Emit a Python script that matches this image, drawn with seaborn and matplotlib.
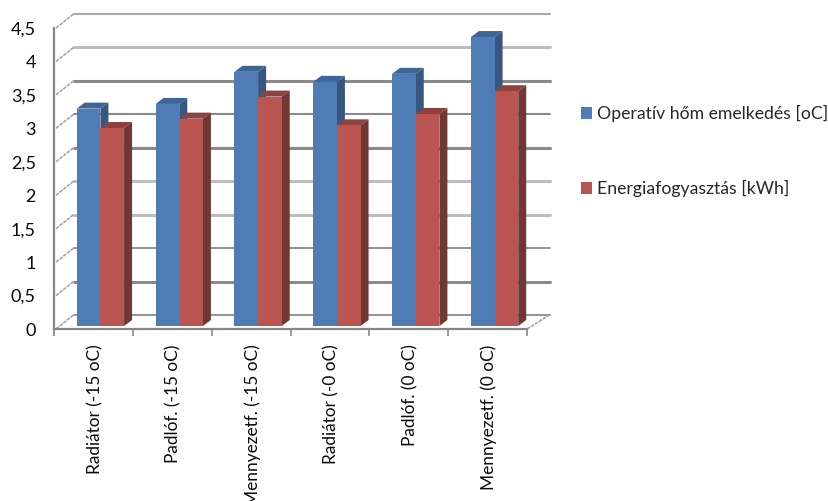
import numpy as np
import pandas as pd
import seaborn as sns
import matplotlib
matplotlib.use("Agg")
import matplotlib.pyplot as plt
from matplotlib.patches import Polygon
from matplotlib.transforms import Affine2D, IdentityTransform

categories = ["Radiátor (-15 oC)", "Padlóf. (-15 oC)", "Mennyezetf. (-15 oC)",
              "Radiátor (-0 oC)", "Padlóf. (0 oC)", "Mennyezetf. (0 oC)"]
series_names = ["Operatív hőm emelkedés [oC]", "Energiafogyasztás [kWh]"]
operative_rise = [3.25, 3.32, 3.80, 3.65, 3.77, 4.32]
energy_use = [2.96, 3.10, 3.43, 3.00, 3.17, 3.51]
y_ticks = [0, 0.5, 1, 1.5, 2, 2.5, 3, 3.5, 4, 4.5]
y_labels = ["0", "0,5", "1", "1,5", "2", "2,5", "3", "3,5", "4", "4,5"]

FRONT = ["#4F7CB5", "#BA5552"]
TOP = ["#3D6595", "#8E413F"]
SIDE = ["#375680", "#703735"]
AXIS_GREY = "#868686"
GRID_SHADES = ["#8A8A8A", "#8A8A8A", "#8A8A8A", "#BDBDBD", "#BDBDBD",
               "#8A8A8A", "#8A8A8A", "#8A8A8A", "#BDBDBD", "#ABABAB"]
GRID_WIDTHS = [1.3, 2.2, 1.3, 2.2, 2.2, 2.2, 1.5, 2.2, 2.2, 1.5]

W, H = 829, 501
sns.set_theme(style="white")
plt.rcParams["font.family"] = ["Lato", "DejaVu Sans"]

fig = plt.figure(figsize=(W / 100, H / 100), dpi=100, facecolor="white")
ax = fig.add_axes([54 / W, (H - 329) / H, (527 - 54) / W, (329 - 28) / H])

table = pd.DataFrame({
    "kategoria": categories * 2,
    "sorozat": [series_names[0]] * 6 + [series_names[1]] * 6,
    "ertek": operative_rise + energy_use,
})
sns.barplot(data=table, x="kategoria", y="ertek", hue="sorozat", hue_order=series_names,
            palette=FRONT, width=0.6, gap=0, saturation=1, ax=ax, linewidth=0,
            order=categories)

ax.set_xlim(-0.5, 5.5)
ax.set_ylim(0, 4.5)
ax.set_xlabel("")
ax.set_ylabel("")
fig.canvas.draw()

# Depth of the floor and of each extruded column, in output pixels
WALL_DX, WALL_DY = 19.5, 14
BAR_SHIFT = Affine2D().translate(7, 3)
DEPTH_DX, DEPTH_DY = 8, 6
pixels = IdentityTransform()

to_px = ax.transData.transform
for value, shade, width in zip(y_ticks, GRID_SHADES, GRID_WIDTHS):
    x0, y0 = to_px((-0.5, value))
    x1, _ = to_px((5.5, value))
    ax.add_line(plt.Line2D([x0 + WALL_DX, x1 + WALL_DX + 3], [y0 + WALL_DY] * 2, color=shade,
                           lw=width, transform=pixels, clip_on=False, zorder=1))
    ax.add_line(plt.Line2D([x0 + 2, x0 + WALL_DX], [y0, y0 + WALL_DY], color="#A6A6A6",
                           lw=1.2, ls=(0, (2.2, 0.6)), transform=pixels, clip_on=False, zorder=1))

x1, y0 = to_px((5.5, 0))
ax.add_line(plt.Line2D([x1, x1 + WALL_DX + 3], [y0, y0 + WALL_DY], color="#A6A6A6",
                       lw=1.2, ls=(0, (2.2, 0.6)), transform=pixels, clip_on=False, zorder=1))

# Extrude every column from the rectangle the bar plot produced
for s, container in enumerate(ax.containers):
    for bar in container:
        base = 3 + 2 * s
        (xa, ya), (xb, yb) = BAR_SHIFT.transform(to_px(bar.get_corners()[[0, 2]]))
        bar.set_transform(ax.transData + BAR_SHIFT)
        bar.set_clip_on(False)
        bar.set_zorder(base + 1)
        ax.add_patch(Polygon([(xb, ya), (xb + DEPTH_DX, ya + DEPTH_DY),
                              (xb + DEPTH_DX, yb + DEPTH_DY), (xb, yb)],
                             closed=True, fc=SIDE[s], ec="none", transform=pixels,
                             clip_on=False, zorder=base))
        ax.add_patch(Polygon([(xa, yb), (xb, yb), (xb + DEPTH_DX, yb + DEPTH_DY),
                              (xa + DEPTH_DX, yb + DEPTH_DY)],
                             closed=True, fc=TOP[s], ec="none", transform=pixels,
                             clip_on=False, zorder=base))

sns.despine(ax=ax, top=True, right=True)
for side in ("left", "bottom"):
    ax.spines[side].set_color(AXIS_GREY)
    ax.spines[side].set_linewidth(1.6)
    ax.spines[side].set_zorder(2)

ax.set_yticks(y_ticks, y_labels)
ax.tick_params(axis="y", length=0, pad=13, labelsize=13, labelcolor="#0A0A0A")
ax.set_xticks(np.arange(-0.5, 6, 1), [""] * 7)
ax.tick_params(axis="x", which="major", length=5, width=1.2, color=AXIS_GREY, bottom=True)
ax.set_xticks(range(6), categories, minor=True)
ax.tick_params(axis="x", which="minor", length=0, pad=11, labelsize=12.4, labelrotation=90,
               labelcolor="#0A0A0A")
for label in ax.get_xticklabels(minor=True):
    label.set_transform(label.get_transform() + Affine2D().translate(1.5, 0))

sns.move_legend(ax, "upper left", bbox_to_anchor=(581 / W, (H - 105) / H),
                bbox_transform=fig.transFigure, frameon=False, title=None,
                fontsize=12.7, labelspacing=3.3, handlelength=0.65, handleheight=0.65,
                handletextpad=0.26, borderpad=0, borderaxespad=0)

fig.savefig("out.png", dpi=100, facecolor="white")
